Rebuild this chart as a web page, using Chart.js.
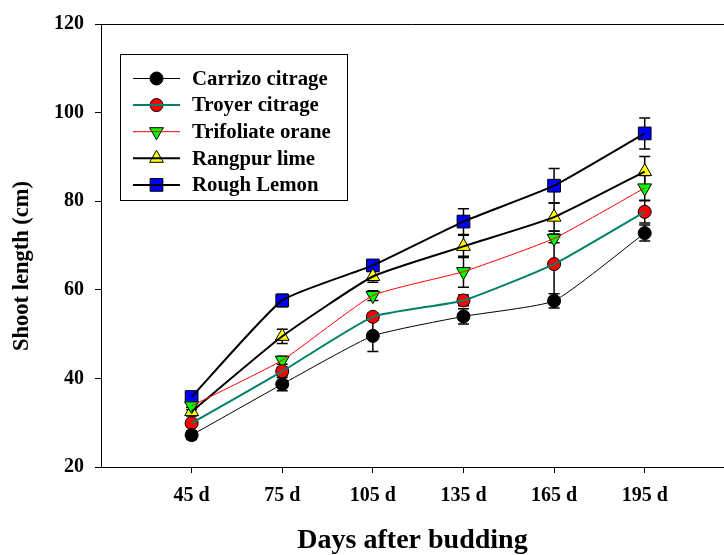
<!DOCTYPE html>
<html>
<head>
<meta charset="utf-8">
<script src="https://cdn.jsdelivr.net/npm/chart.js"></script>
<style>
  html, body { margin: 0; padding: 0; background: #fff; overflow: hidden; }
  #c { display: block; }
</style>
</head>
<body>
<canvas id="c" width="724" height="555"></canvas>
<script>
// ---- data ----
const categories = ['45 d', '75 d', '105 d', '135 d', '165 d', '195 d'];
const yTicks = [20, 40, 60, 80, 100, 120];
const seriesNames = ['Carrizo citrage', 'Troyer citrage', 'Trifoliate orane', 'Rangpur lime', 'Rough Lemon'];

const carrizo    = [27.2, 38.7, 49.6, 54.0, 57.5, 72.8];
const carrizoErr = [1.0, 1.5, 3.5, 1.7, 1.6, 1.8];
const troyer     = [29.9, 41.6, 53.9, 57.6, 65.8, 77.6];
const troyerErr  = [0.8, 1.0, 0.8, 1.2, 7.5, 2.5];
const trifoliate    = [33.8, 44.1, 58.7, 64.1, 71.6, 83.0];
const trifoliateErr = [0.8, 0.9, 1.1, 3.5, 1.0, 2.8];
const rangpur    = [32.5, 49.5, 63.0, 69.8, 76.4, 86.7];
const rangpurErr = [1.0, 1.6, 1.3, 2.5, 3.2, 3.4];
const rough      = [35.8, 57.6, 65.5, 75.4, 83.5, 95.3];
const roughErr   = [0.8, 1.4, 0.9, 2.9, 3.9, 3.5];

// ---- styles ----
const FONT = '"Liberation Serif", "Times New Roman", serif';
const styles = [
  { values: carrizo,    err: carrizoErr,    fill: '#000000', line: '#000000', lw: 1,   style: 'circle',   radius: 6.5, rot: 0 },
  { values: troyer,     err: troyerErr,     fill: '#ff0000', line: '#00806a', lw: 2,   style: 'circle',   radius: 6.5, rot: 0 },
  { values: trifoliate, err: trifoliateErr, fill: '#00ff00', line: '#ff0000', lw: 1,   style: 'triangle', radius: 8,   rot: 180 },
  { values: rangpur,    err: rangpurErr,    fill: '#ffff00', line: '#000000', lw: 2,   style: 'triangle', radius: 8,   rot: 0 },
  { values: rough,      err: roughErr,      fill: '#0000ff', line: '#000000', lw: 2,   style: 'rect',     radius: 9,   rot: 0 }
];

const toPoints = (vals) => vals.map((v, i) => ({ x: i, y: v }));

// line datasets (drawn on top of markers, as in the reference)
const lineSets = styles.map((s, k) => ({
  label: seriesNames[k] + ' line',
  data: toPoints(s.values),
  borderColor: s.line,
  borderWidth: s.lw,
  pointRadius: 0,
  pointHoverRadius: 0,
  tension: 0.15,
  fill: false,
  order: 0
}));
// marker datasets
const markerSets = styles.map((s, k) => ({
  label: seriesNames[k],
  data: toPoints(s.values),
  showLine: false,
  pointStyle: s.style,
  pointRotation: s.rot,
  pointRadius: s.radius,
  pointHoverRadius: s.radius,
  pointBackgroundColor: s.fill,
  pointBorderColor: '#000000',
  pointBorderWidth: 1,
  order: 1
}));

const errorBars = {
  id: 'errorBars',
  beforeDatasetsDraw(chart) {
    const { ctx, scales: { x, y } } = chart;
    ctx.save();
    ctx.strokeStyle = '#000';
    ctx.lineWidth = 1.5;
    styles.forEach(s => {
      s.values.forEach((v, i) => {
        const px = x.getPixelForValue(i);
        const top = y.getPixelForValue(v + s.err[i]);
        const bot = y.getPixelForValue(v - s.err[i]);
        ctx.beginPath();
        ctx.moveTo(px, top); ctx.lineTo(px, bot);
        ctx.moveTo(px - 5.5, top); ctx.lineTo(px + 5.5, top);
        ctx.moveTo(px - 5.5, bot); ctx.lineTo(px + 5.5, bot);
        ctx.stroke();
      });
    });
    ctx.restore();
  }
};

const frameAndTitle = {
  id: 'frameAndTitle',
  afterDraw(chart) {
    const { ctx, chartArea } = chart;
    ctx.save();
    ctx.strokeStyle = '#000';
    ctx.lineWidth = 1;
    ctx.beginPath();
    ctx.moveTo(chartArea.left, chartArea.top + 0.5);
    ctx.lineTo(chartArea.right, chartArea.top + 0.5);
    ctx.stroke();
    // y axis title
    ctx.translate(22, 266);
    ctx.rotate(-Math.PI / 2);
    ctx.fillStyle = '#000';
    ctx.font = 'bold 22.5px ' + FONT;
    ctx.textAlign = 'center';
    ctx.textBaseline = 'middle';
    ctx.fillText('Shoot length (cm)', 0, 0);
    ctx.restore();
  }
};

const customLegend = {
  id: 'customLegend',
  afterDraw(chart) {
    const { ctx } = chart;
    ctx.save();
    ctx.fillStyle = '#fff';
    ctx.fillRect(120, 54, 227, 146);
    ctx.strokeStyle = '#000';
    ctx.lineWidth = 1;
    ctx.strokeRect(120.5, 54.5, 227, 146);
    styles.forEach((s, k) => {
      const yy = 78.5 + k * 26.6;
      // marker
      ctx.fillStyle = s.fill;
      ctx.strokeStyle = '#000';
      ctx.lineWidth = 1;
      Chart.helpers.drawPoint(ctx, { pointStyle: s.style, rotation: s.rot, radius: s.radius, borderWidth: 1 }, 156.5, yy);
      // line on top
      ctx.strokeStyle = s.line;
      ctx.lineWidth = s.lw;
      ctx.beginPath();
      ctx.moveTo(133, yy); ctx.lineTo(180, yy);
      ctx.stroke();
      // text
      ctx.fillStyle = '#000';
      ctx.font = 'bold 20.8px ' + FONT;
      ctx.textAlign = 'left';
      ctx.textBaseline = 'middle';
      ctx.fillText(seriesNames[k], 192, yy + 1);
    });
    ctx.restore();
  }
};

new Chart(document.getElementById('c'), {
  type: 'line',
  data: { datasets: [...lineSets, ...markerSets] },
  options: {
    responsive: false,
    animation: false,
    devicePixelRatio: 1,
    layout: { padding: { top: 24, left: 0, right: 0, bottom: 0 }, autoPadding: false },
    plugins: { legend: { display: false }, tooltip: { enabled: false } },
    events: [],
    scales: {
      x: {
        type: 'linear',
        min: -1,
        max: 5.875,
        afterBuildTicks: (s) => { s.ticks = categories.map((c, i) => ({ value: i })); },
        afterFit: (s) => { s.height = 88; },
        ticks: {
          callback: (v) => categories[v],
          color: '#000',
          font: { family: FONT, size: 20, weight: 'bold' },
          padding: 11,
          maxRotation: 0,
          autoSkip: false
        },
        grid: { drawOnChartArea: false, drawTicks: true, tickLength: 6, color: '#000', lineWidth: 1 },
        border: { display: true, color: '#000', width: 1 },
        title: {
          display: true,
          text: 'Days after budding',
          color: '#000',
          font: { family: FONT, size: 28, weight: 'bold', lineHeight: 1.0 },
          padding: { top: 0, bottom: 0 }
        }
      },
      y: {
        type: 'linear',
        min: 20,
        max: 120,
        afterBuildTicks: (s) => { s.ticks = yTicks.map(v => ({ value: v })); },
        afterFit: (s) => { s.width = 101; },
        ticks: {
          color: '#000',
          font: { family: FONT, size: 20, weight: 'bold' },
          padding: 11
        },
        grid: { drawOnChartArea: false, drawTicks: true, tickLength: 6, color: '#000', lineWidth: 1 },
        border: { display: true, color: '#000', width: 1 }
      }
    }
  },
  plugins: [errorBars, frameAndTitle, customLegend]
});
</script>
</body>
</html>
